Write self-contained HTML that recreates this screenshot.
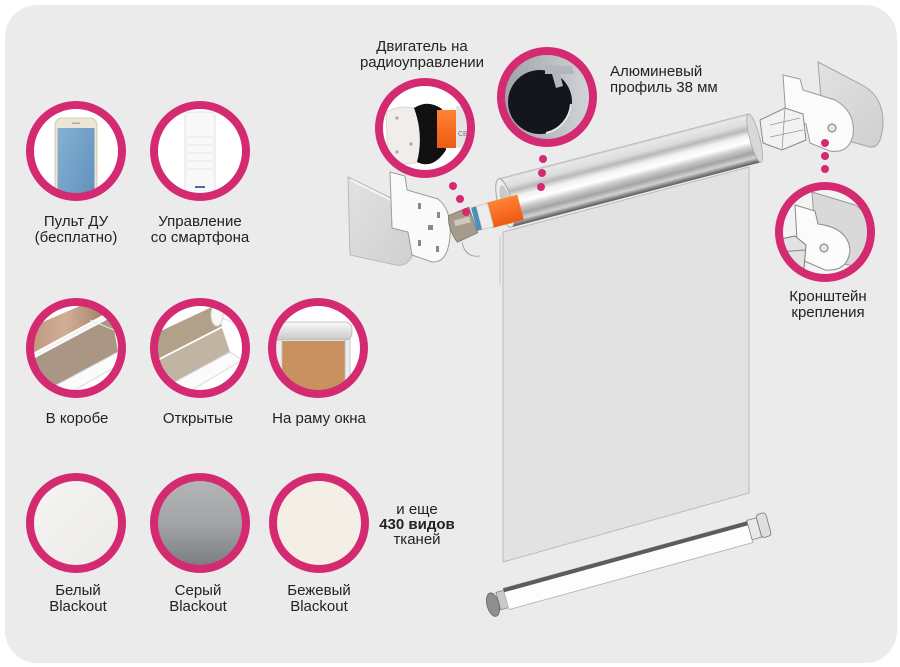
<!DOCTYPE html>
<html><head><meta charset="utf-8">
<style>
html,body{margin:0;padding:0;background:#fff;}
#w{position:relative;width:900px;height:667px;overflow:hidden;font-family:"Liberation Sans","DejaVu Sans",sans-serif;color:#222;}
svg{position:absolute;left:0;top:0;}
.t{position:absolute;font-size:15px;line-height:16px;text-align:center;white-space:nowrap;width:160px;margin-left:-80px;}
.l{position:absolute;font-size:15px;line-height:16px;white-space:nowrap;}
b{font-weight:bold;}
</style></head><body><div id="w">
<svg width="900" height="667" viewBox="0 0 900 667">
<defs>
<clipPath id="cA"><circle cx="76" cy="151" r="44"/></clipPath>
<clipPath id="cB"><circle cx="200" cy="151" r="44"/></clipPath>
<clipPath id="cC"><circle cx="76" cy="348" r="44"/></clipPath>
<clipPath id="cD"><circle cx="200" cy="348" r="44"/></clipPath>
<clipPath id="cE"><circle cx="318" cy="348" r="44"/></clipPath>
<clipPath id="cM"><circle cx="425" cy="128" r="44"/></clipPath>
<clipPath id="cP"><circle cx="547" cy="97" r="44"/></clipPath>
<clipPath id="cK"><circle cx="825" cy="232" r="44"/></clipPath>
<linearGradient id="gPhone" x1="0" y1="0" x2="1" y2="1"><stop offset="0" stop-color="#86b0d4"/><stop offset="1" stop-color="#5a8bb8"/></linearGradient>
<linearGradient id="gWood" x1="0" y1="0" x2="1" y2="0"><stop offset="0" stop-color="#b89279"/><stop offset="0.5" stop-color="#d1ae96"/><stop offset="1" stop-color="#9c7862"/></linearGradient>
<linearGradient id="gGrey" x1="0" y1="0" x2="0" y2="1"><stop offset="0" stop-color="#b3b5b7"/><stop offset="0.5" stop-color="#a2a4a6"/><stop offset="1" stop-color="#7b7c7d"/></linearGradient>
<linearGradient id="gWhite" x1="0" y1="0" x2="1" y2="1"><stop offset="0" stop-color="#f5f4f2"/><stop offset="1" stop-color="#ebeae7"/></linearGradient>
<linearGradient id="gBar" x1="0" y1="0" x2="0" y2="1"><stop offset="0" stop-color="#fafafa"/><stop offset="1" stop-color="#c8c8c8"/></linearGradient>
<linearGradient id="gTube" x1="0" y1="0" x2="0" y2="1">
<stop offset="0" stop-color="#c4c4c4"/><stop offset="0.04" stop-color="#e8e8e8"/><stop offset="0.2" stop-color="#dcdcdc"/>
<stop offset="0.3" stop-color="#b8b8b8"/><stop offset="0.42" stop-color="#f2f2f2"/><stop offset="0.55" stop-color="#ffffff"/>
<stop offset="0.66" stop-color="#cacaca"/><stop offset="0.78" stop-color="#a4a4a4"/><stop offset="0.88" stop-color="#d2d2d2"/>
<stop offset="0.96" stop-color="#7a7a7a"/><stop offset="1" stop-color="#5a5a5a"/></linearGradient>
<linearGradient id="gOr" x1="0" y1="0" x2="0" y2="1"><stop offset="0" stop-color="#ff8336"/><stop offset="1" stop-color="#ee5a12"/></linearGradient>
<linearGradient id="gCap" x1="0" y1="0" x2="1" y2="1"><stop offset="0" stop-color="#e2e2e2"/><stop offset="1" stop-color="#cfcfcf"/></linearGradient>
<linearGradient id="gAl" x1="0" y1="0" x2="1" y2="0"><stop offset="0" stop-color="#9da1a7"/><stop offset="1" stop-color="#d4d7da"/></linearGradient>
</defs>
<rect x="5" y="5" width="892" height="658" rx="32" fill="#ebebeb"/>

<!-- Icon A phone -->
<g clip-path="url(#cA)">
<rect x="26" y="101" width="100" height="100" fill="#fff"/>
<rect x="55" y="118" width="42" height="110" rx="7" fill="#ece6d6" stroke="#d4cbb3"/>
<rect x="57.5" y="128" width="37" height="100" fill="url(#gPhone)"/>
<rect x="72" y="122.5" width="8" height="1.5" fill="#aaa"/>
</g>
<circle cx="76" cy="151" r="46" fill="none" stroke="#d42a72" stroke-width="8"/>

<!-- Icon B remote -->
<g clip-path="url(#cB)">
<rect x="150" y="101" width="100" height="100" fill="#fff"/>
<rect x="185" y="112" width="30" height="82" rx="3" fill="#f8f8f8" stroke="#e0e0e0"/>
<g stroke="#e6e6e6" stroke-width="1"><line x1="187" y1="137" x2="213" y2="137"/><line x1="187" y1="145" x2="213" y2="145"/><line x1="187" y1="153" x2="213" y2="153"/><line x1="187" y1="161" x2="213" y2="161"/><line x1="187" y1="169" x2="213" y2="169"/></g>
<rect x="195" y="186" width="10" height="2" fill="#4a6fa5"/>
</g>
<circle cx="200" cy="151" r="46" fill="none" stroke="#d42a72" stroke-width="8"/>

<!-- Icon C box -->
<g clip-path="url(#cC)">
<rect x="26" y="298" width="100" height="100" fill="#fff"/>
<polygon points="20,332 105,295 112,310 20,360" fill="url(#gWood)"/>
<line x1="22" y1="362" x2="112" y2="314" stroke="#f4f4f4" stroke-width="3"/>
<polygon points="22,365 112,317 118,352 36,396" fill="#a99684"/>
<polygon points="36,396 118,352 128,360 46,406" fill="#fbfbfb" stroke="#d8d8d8"/>
<line x1="90" y1="320" x2="126" y2="335" stroke="#eee" stroke-width="1"/>
</g>
<circle cx="76" cy="348" r="46" fill="none" stroke="#d42a72" stroke-width="8"/>

<!-- Icon D open -->
<g clip-path="url(#cD)">
<rect x="150" y="298" width="100" height="100" fill="#fff"/>
<polygon points="146,338 214,306 222,326 148,364" fill="#b3a08b"/>
<ellipse cx="217" cy="315" rx="6" ry="11" fill="#f7f7f7" stroke="#d5d5d5"/>
<polygon points="148,366 222,328 230,352 160,390" fill="#c2b4a3"/>
<polygon points="160,390 230,352 242,360 172,402" fill="#fbfbfb" stroke="#d8d8d8"/>
<line x1="222" y1="318" x2="250" y2="330" stroke="#ddd" stroke-width="1"/>
</g>
<circle cx="200" cy="348" r="46" fill="none" stroke="#d42a72" stroke-width="8"/>

<!-- Icon E frame -->
<g clip-path="url(#cE)">
<rect x="268" y="298" width="100" height="100" fill="#fff"/>
<rect x="282" y="341" width="63" height="62" fill="#c8915f"/>
<rect x="276" y="336" width="6" height="66" fill="#ececec" stroke="#bdbdbd" stroke-width="0.8"/>
<rect x="345" y="336" width="5" height="66" fill="#ececec" stroke="#bdbdbd" stroke-width="0.8"/>
<rect x="270" y="322" width="82" height="18" rx="7" fill="url(#gBar)" stroke="#b5b5b5" stroke-width="0.8"/>
</g>
<circle cx="318" cy="348" r="46" fill="none" stroke="#d42a72" stroke-width="8"/>

<!-- Fabric swatches -->
<circle cx="76" cy="523" r="44" fill="url(#gWhite)"/>
<circle cx="76" cy="523" r="46" fill="none" stroke="#d42a72" stroke-width="8"/>
<circle cx="200" cy="523" r="44" fill="url(#gGrey)"/>
<circle cx="200" cy="523" r="46" fill="none" stroke="#d42a72" stroke-width="8"/>
<circle cx="319" cy="523" r="44" fill="#f3efe6"/>
<circle cx="319" cy="523" r="46" fill="none" stroke="#d42a72" stroke-width="8"/>

<!-- Motor circle -->
<g clip-path="url(#cM)">
<rect x="380" y="83" width="90" height="90" fill="#fff"/>
<path d="M386,112 Q400,104 418,109 L422,160 Q405,168 388,160 Z" fill="#f1edeb" stroke="#dcd6d2"/>
<circle cx="397" cy="118" r="1.6" fill="#aaa"/><circle cx="397" cy="152" r="1.6" fill="#aaa"/><circle cx="411" cy="144" r="1.6" fill="#aaa"/>
<path d="M414,108 Q428,99 442,109 L446,150 Q433,170 417,162 Q424,135 414,108 Z" fill="#111"/>
<rect x="437" y="110" width="20" height="38" fill="url(#gOr)"/>
<rect x="456" y="106" width="16" height="42" fill="#e4e4e4"/>
<text x="458" y="136" font-size="7" fill="#777" font-family="Liberation Sans, sans-serif">CE</text>
</g>
<circle cx="425" cy="128" r="46" fill="none" stroke="#d42a72" stroke-width="8"/>

<!-- Profile circle -->
<g clip-path="url(#cP)">
<rect x="500" y="50" width="95" height="95" fill="url(#gAl)"/>
<circle cx="540" cy="102" r="32" fill="#14151d"/>
<path d="M545,65 L572,66 L574,74 L560,74 L563,86 L556,88 L552,74 L545,74 Z" fill="#b3b7bc"/>
<path d="M571,104 A32,32 0 0 1 546,133" fill="none" stroke="#e6e8ea" stroke-width="2"/>
</g>
<circle cx="547" cy="97" r="46" fill="none" stroke="#d42a72" stroke-width="8"/>

<!-- Bracket circle -->
<g clip-path="url(#cK)">
<rect x="778" y="185" width="95" height="95" fill="#f3f3f3"/>
<path d="M812,192 L855,205 Q872,215 870,240 Q868,265 855,266 L830,262 L815,230 Z" fill="#d9d9d9" stroke="#9a9a9a"/>
<path d="M795,205 L815,211 L818,224 Q848,228 850,250 Q848,272 825,270 L802,260 L797,240 Z" fill="#fbfbfb" stroke="#8a8a8a"/>
<circle cx="824" cy="248" r="4" fill="#e5e5e5" stroke="#777"/>
<path d="M776,240 L795,236 L806,245 L804,268 L785,275 L776,266 Z" fill="#e2e2e2" stroke="#7a7a7a"/>
<line x1="780" y1="252" x2="805" y2="250" stroke="#888"/>
</g>
<circle cx="825" cy="232" r="46" fill="none" stroke="#d42a72" stroke-width="8"/>

<!-- Fabric -->
<polygon points="503,232 749,167 749,493 503,562" fill="#e2e2e2" stroke="#bcbcbc" stroke-width="1"/>
<line x1="500" y1="236" x2="500" y2="285" stroke="#c8c8c8"/>

<!-- Left cap and bracket -->
<path d="M348,177 L395,200 Q418,212 416,240 Q413,268 396,265 L350,255 Z" fill="url(#gCap)" stroke="#b9b9b9"/>
<path d="M351,180 L395,202" stroke="#f5f5f5" stroke-width="2"/>
<path d="M390,172 L405,176 L407,190 L438,199 Q452,210 450,236 Q448,263 432,262 L412,255 L408,232 L392,228 Z" fill="#fafafa" stroke="#9c9c9c"/>
<g fill="#888"><rect x="418" y="203" width="3" height="6"/><rect x="437" y="212" width="3" height="6"/><rect x="418" y="240" width="3" height="6"/><rect x="436" y="246" width="3" height="6"/><rect x="428" y="225" width="5" height="5"/></g>

<!-- Right cap, bracket, plug -->
<path d="M818,62 L864,86 Q884,98 883,125 Q881,149 870,147 L848,141 L822,110 Z" fill="url(#gCap)" stroke="#a5a5a5"/>
<path d="M783,75 L800,79 L803,90 L835,100 Q856,112 853,135 Q849,154 830,151 L810,143 L806,124 L786,118 Z" fill="#fbfbfb" stroke="#999"/>
<circle cx="832" cy="128" r="4" fill="#e5e5e5" stroke="#777"/>
<path d="M760,120 L785,108 L803,114 L806,140 L782,150 L763,143 Z" fill="#f2f2f2" stroke="#888"/>
<g stroke="#999" stroke-width="0.8" fill="none"><line x1="785" y1="108" x2="782" y2="150"/><line x1="770" y1="125" x2="800" y2="118"/><line x1="770" y1="137" x2="803" y2="130"/></g>

<!-- Tube -->
<g transform="translate(505,203) rotate(-14.57)">
<rect x="0" y="-25" width="258" height="50" fill="url(#gTube)"/>
<ellipse cx="258" cy="0" rx="5" ry="25" fill="#d8d8d8" stroke="#aaa" stroke-width="0.8"/>
<line x1="0" y1="-25" x2="258" y2="-25" stroke="#bdbdbd" stroke-width="1"/>
<ellipse cx="0" cy="0" rx="7" ry="25" fill="#ededed" stroke="#a5a5a5" stroke-width="1"/>
<ellipse cx="1" cy="2" rx="5" ry="20" fill="#c9c9c9"/>
<rect x="-18" y="-5" width="32" height="26" fill="url(#gOr)"/>
<rect x="-29" y="-4" width="12" height="24" fill="#ececec" stroke="#c5c5c5" stroke-width="0.8"/>
<rect x="-34" y="-4" width="5" height="24" fill="#4a90b8"/>
<path d="M-58,-2 L-36,-5 L-34,22 L-56,26 Q-62,12 -58,-2 Z" fill="#a59b8c" stroke="#7d7567" stroke-width="0.8"/>
<rect x="-54" y="4" width="16" height="6" fill="#cfc8bb"/>
</g>
<path d="M462,242 Q465,258 480,256" fill="none" stroke="#999" stroke-width="0.8"/>

<!-- Bottom bar -->
<g transform="translate(506,599) rotate(-15.36)">
<rect x="-8" y="-9" width="10" height="18" fill="#c9c9c9" stroke="#888" stroke-width="0.8"/>
<ellipse cx="-14" cy="2" rx="6" ry="12" fill="#8f8f8f" stroke="#666" stroke-width="0.8"/>
<rect x="0" y="-11" width="253" height="22" fill="#fdfdfd" stroke="#b0b0b0" stroke-width="0.8"/>
<rect x="0" y="-11" width="253" height="4" fill="#5c5c5c"/>
<rect x="253" y="-12" width="10" height="20" fill="#e8e8e8" stroke="#888" stroke-width="0.8"/>
<rect x="263" y="-15" width="10" height="24" rx="3" fill="#dedede" stroke="#777" stroke-width="0.8"/>
</g>

<!-- Dots -->
<g fill="#d42a72">
<circle cx="453" cy="186" r="4"/><circle cx="460" cy="199" r="4"/><circle cx="466" cy="212" r="4"/>
<circle cx="543" cy="159" r="4"/><circle cx="542" cy="173" r="4"/><circle cx="541" cy="187" r="4"/>
<circle cx="825" cy="143" r="4"/><circle cx="825" cy="156" r="4"/><circle cx="825" cy="169" r="4"/>
</g>
</svg>

<div class="t" style="left:76px;top:214px;">Пульт ДУ<br>(бесплатно)</div>
<div class="t" style="left:200px;top:214px;">Управление<br>со смартфона</div>
<div class="t" style="left:77px;top:411px;">В коробе</div>
<div class="t" style="left:198px;top:411px;">Открытые</div>
<div class="t" style="left:319px;top:411px;">На раму окна</div>
<div class="t" style="left:78px;top:583px;">Белый<br>Blackout</div>
<div class="t" style="left:198px;top:583px;">Серый<br>Blackout</div>
<div class="t" style="left:319px;top:583px;">Бежевый<br>Blackout</div>
<div class="t" style="left:417px;top:502px;line-height:15px;">и еще<br><b>430 видов</b><br>тканей</div>
<div class="t" style="left:422px;top:39px;">Двигатель на<br>радиоуправлении</div>
<div class="l" style="left:610px;top:64px;">Алюминевый<br>профиль 38 мм</div>
<div class="t" style="left:828px;top:289px;">Кронштейн<br>крепления</div>
</div></body></html>
